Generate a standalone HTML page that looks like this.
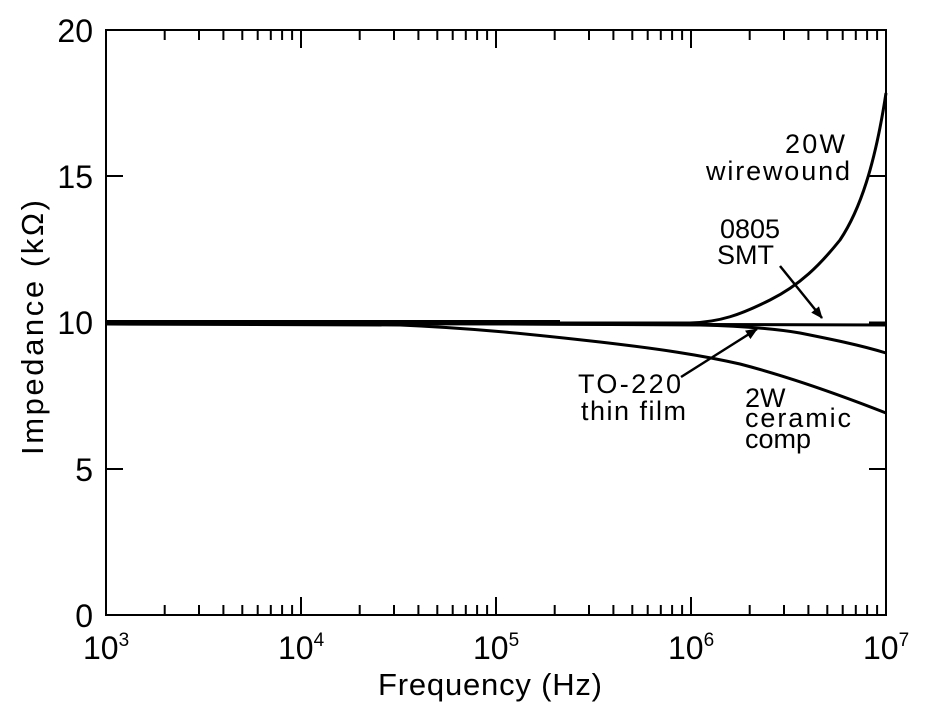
<!DOCTYPE html>
<html><head><style>body{margin:0;background:#fff}svg{display:block}text{font-family:"Liberation Sans",sans-serif;fill:#000}</style></head><body>
<svg width="932" height="716" viewBox="0 0 932 716">
<defs><marker id="ah" markerWidth="12" markerHeight="10" refX="11" refY="5" orient="auto" markerUnits="userSpaceOnUse" viewBox="0 0 12 10"><path d="M0,0 L12,5 L0,10z"/></marker></defs>
<g stroke="#000" stroke-width="2">
<path d="M164.7,615v-10M199,615v-10M223.4,615v-10M242.3,615v-10M257.7,615v-10M270.8,615v-10M282.1,615v-10M292.1,615v-10M301,615v-18M359.7,615v-10M394,615v-10M418.4,615v-10M437.3,615v-10M452.7,615v-10M465.8,615v-10M477.1,615v-10M487.1,615v-10M496,615v-18M554.7,615v-10M589,615v-10M613.4,615v-10M632.3,615v-10M647.7,615v-10M660.8,615v-10M672.1,615v-10M682.1,615v-10M691,615v-18M749.7,615v-10M784,615v-10M808.4,615v-10M827.3,615v-10M842.7,615v-10M855.8,615v-10M867.1,615v-10M877.1,615v-10"/>
<path d="M164.7,30v10M199,30v10M223.4,30v10M242.3,30v10M257.7,30v10M270.8,30v10M282.1,30v10M292.1,30v10M301,30v18M359.7,30v10M394,30v10M418.4,30v10M437.3,30v10M452.7,30v10M465.8,30v10M477.1,30v10M487.1,30v10M496,30v18M554.7,30v10M589,30v10M613.4,30v10M632.3,30v10M647.7,30v10M660.8,30v10M672.1,30v10M682.1,30v10M691,30v18M749.7,30v10M784,30v10M808.4,30v10M827.3,30v10M842.7,30v10M855.8,30v10M867.1,30v10M877.1,30v10"/>
<path d="M106,176h17M106,322.5h17M106,469h17M886,176h-17M886,322.5h-17M886,469h-17"/>
</g>
<rect x="106" y="30" width="780" height="585" fill="none" stroke="#000" stroke-width="2"/>
<g fill="none" stroke="#000" stroke-width="3" stroke-linejoin="round">
<path d="M106,323 L690,323 C720,322 740,315 770,300 C800,285 820,265 840,240 C860,210 875,165 886,93"/>
<path d="M106,323 L886,325"/>
<path d="M500,324 L700,325 C740,326 770,328 800,333 C830,339 860,345 886,353"/>
<path d="M106,324 L400,325 C470,328 530,334 600,342 C660,349 700,355 740,364 C790,377 840,395 886,413"/>
<path d="M106,322 L560,322" stroke-width="4"/>
</g>
<g stroke="#000" stroke-width="2.5">
<line x1="780" y1="266" x2="822" y2="318" marker-end="url(#ah)"/>
<line x1="681" y1="377" x2="757" y2="329" marker-end="url(#ah)"/>
</g>
<g font-size="27">
<text x="785" y="153" textLength="60">20W</text>
<text x="706" y="180" textLength="144">wirewound</text>
<text x="720" y="238">0805</text>
<text x="717" y="264">SMT</text>
<text x="578" y="393" textLength="103">TO-220</text>
<text x="581" y="420" textLength="105">thin film</text>
<text x="745" y="407">2W</text>
<text x="745" y="427" textLength="106">ceramic</text>
<text x="745" y="448">comp</text>
</g>
<g font-size="32" text-anchor="end">
<text x="93" y="42">20</text><text x="93" y="188">15</text><text x="93" y="334">10</text><text x="93" y="481">5</text><text x="93" y="627">0</text>
</g>
<g font-size="32">
<text x="83" y="659">10<tspan font-size="19" dy="-13">3</tspan></text>
<text x="278" y="659">10<tspan font-size="19" dy="-13">4</tspan></text>
<text x="473" y="659">10<tspan font-size="19" dy="-13">5</tspan></text>
<text x="668" y="659">10<tspan font-size="19" dy="-13">6</tspan></text>
<text x="863" y="659">10<tspan font-size="19" dy="-13">7</tspan></text>
</g>
<text x="378" y="695" font-size="31" textLength="224">Frequency (Hz)</text>
<text transform="translate(43,455) rotate(-90)" font-size="31" textLength="255">Impedance (kΩ)</text>
</svg>
</body></html>
